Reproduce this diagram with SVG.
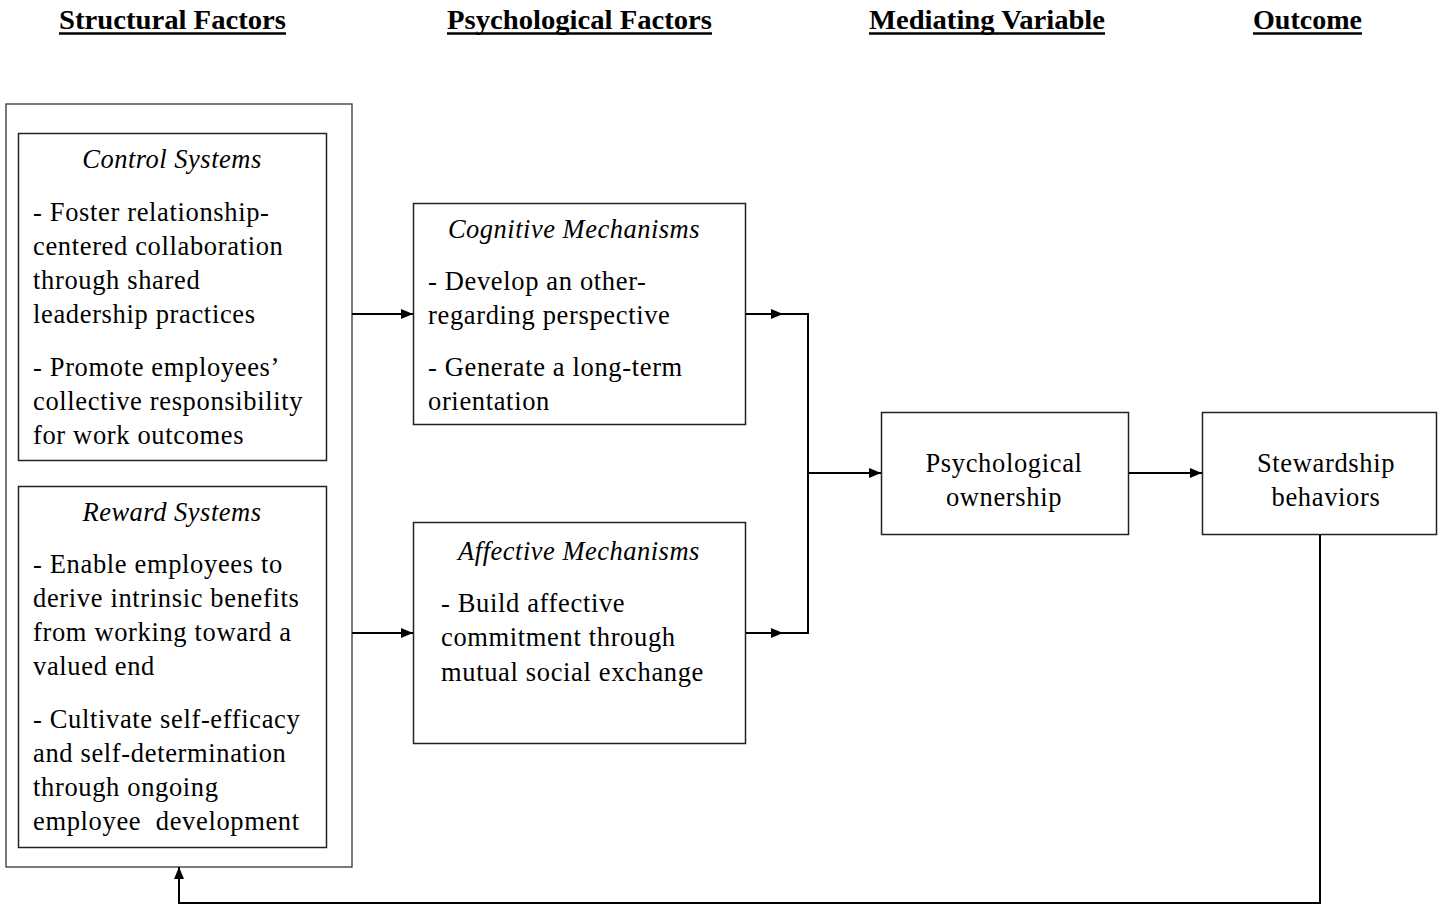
<svg xmlns="http://www.w3.org/2000/svg" width="1443" height="905" viewBox="0 0 1443 905">
<style>
.hd{font-family:"Liberation Serif","Times New Roman",serif;font-weight:bold;font-size:27px;fill:#000}
.t{font-family:"Liberation Serif","Times New Roman",serif;font-size:26.5px;fill:#000;letter-spacing:0.65px}
.ti{font-family:"Liberation Serif","Times New Roman",serif;font-size:26.5px;font-style:italic;fill:#000;text-anchor:middle;letter-spacing:0.5px}
.c{text-anchor:middle}
.box{fill:#fff;stroke:#222;stroke-width:1.5}
.outer{fill:#fff;stroke:#333;stroke-width:1.3}
.ln{fill:none;stroke:#000;stroke-width:2}
.ul{stroke:#000;stroke-width:2.5}
</style>
<defs>
<marker id="ah" markerWidth="12" markerHeight="10" refX="12" refY="5" orient="auto" markerUnits="userSpaceOnUse">
<path d="M0,0 L12,5 L0,10 Z" fill="#000"/>
</marker>
</defs>
<rect width="1443" height="905" fill="#fff"/>
<g id="headers">
<text class="hd" x="59" y="29" textLength="227" lengthAdjust="spacingAndGlyphs">Structural Factors</text>
<line class="ul" x1="59" y1="33.5" x2="286" y2="33.5"/>
<text class="hd" x="447" y="29" textLength="265" lengthAdjust="spacingAndGlyphs">Psychological Factors</text>
<line class="ul" x1="447" y1="33.5" x2="712" y2="33.5"/>
<text class="hd" x="869" y="29" textLength="236" lengthAdjust="spacingAndGlyphs">Mediating Variable</text>
<line class="ul" x1="869" y1="33.5" x2="1105" y2="33.5"/>
<text class="hd" x="1253" y="29" textLength="109" lengthAdjust="spacingAndGlyphs">Outcome</text>
<line class="ul" x1="1253" y1="33.5" x2="1362" y2="33.5"/>
</g>
<g id="structural">
<rect class="outer" x="6" y="104" width="346" height="763"/>
</g>
<g id="control">
<rect class="box" x="18.5" y="133.5" width="308" height="327"/>
<text class="ti" x="172" y="168">Control Systems</text>
<text class="t" x="33" y="221">- Foster relationship-</text>
<text class="t" x="33" y="255">centered collaboration</text>
<text class="t" x="33" y="289">through shared</text>
<text class="t" x="33" y="323">leadership practices</text>
<text class="t" x="33" y="376">- Promote employees’</text>
<text class="t" x="33" y="410">collective responsibility</text>
<text class="t" x="33" y="444">for work outcomes</text>
</g>
<g id="reward">
<rect class="box" x="18.5" y="486.5" width="308" height="361"/>
<text class="ti" x="172" y="521">Reward Systems</text>
<text class="t" x="33" y="573">- Enable employees to</text>
<text class="t" x="33" y="607">derive intrinsic benefits</text>
<text class="t" x="33" y="641">from working toward a</text>
<text class="t" x="33" y="675">valued end</text>
<text class="t" x="33" y="728">- Cultivate self-efficacy</text>
<text class="t" x="33" y="762">and self-determination</text>
<text class="t" x="33" y="796">through ongoing</text>
<text class="t" x="33" y="830" xml:space="preserve">employee  development</text>
</g>
<g id="cognitive">
<rect class="box" x="413.5" y="203.5" width="332" height="221"/>
<text class="ti" x="574" y="238">Cognitive Mechanisms</text>
<text class="t" x="428" y="290">- Develop an other-</text>
<text class="t" x="428" y="324">regarding perspective</text>
<text class="t" x="428" y="376">- Generate a long-term</text>
<text class="t" x="428" y="410">orientation</text>
</g>
<g id="affective">
<rect class="box" x="413.5" y="522.5" width="332" height="221"/>
<text class="ti" x="579" y="560">Affective Mechanisms</text>
<text class="t" x="441" y="612">- Build affective</text>
<text class="t" x="441" y="646">commitment through</text>
<text class="t" x="441" y="681">mutual social exchange</text>
</g>
<g id="ownership">
<rect class="box" x="881.5" y="412.5" width="247" height="122"/>
<text class="t c" x="1004" y="472">Psychological</text>
<text class="t c" x="1004" y="506">ownership</text>
</g>
<g id="stewardship">
<rect class="box" x="1202.5" y="412.5" width="234" height="122"/>
<text class="t c" x="1326" y="472">Stewardship</text>
<text class="t c" x="1326" y="506">behaviors</text>
</g>
<g id="connectors">
<line class="ln" x1="352" y1="314" x2="413" y2="314" marker-end="url(#ah)"/>
<line class="ln" x1="352" y1="633" x2="413" y2="633" marker-end="url(#ah)"/>
<line class="ln" x1="746" y1="314" x2="783" y2="314" marker-end="url(#ah)"/>
<line class="ln" x1="746" y1="633" x2="783" y2="633" marker-end="url(#ah)"/>
<polyline class="ln" points="781,314 808,314 808,633 781,633"/>
<line class="ln" x1="808" y1="473" x2="881" y2="473" marker-end="url(#ah)"/>
<line class="ln" x1="1129" y1="473" x2="1202" y2="473" marker-end="url(#ah)"/>
<polyline class="ln" points="1320,535 1320,903 179,903 179,867" marker-end="url(#ah)"/>
</g>
</svg>
